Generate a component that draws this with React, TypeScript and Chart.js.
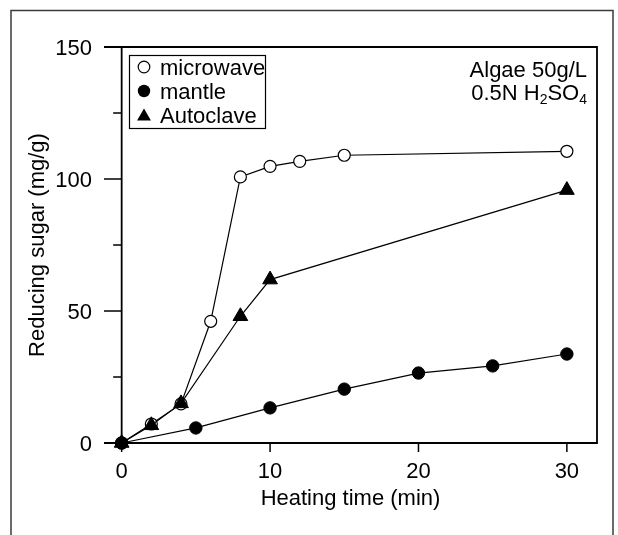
import React, { useEffect, useRef } from "react";
import { Chart, registerables } from "chart.js";

Chart.register(...registerables);

// Reducing sugar yield over heating time for three heating methods
const microwaveTime = [0, 2, 4, 6, 8, 10, 12, 15, 30];
const microwaveSugar = [0, 7.2, 14.8, 46.1, 100.8, 104.8, 106.7, 109.0, 110.5];

const mantleTime = [0, 5, 10, 15, 20, 25, 30];
const mantleSugar = [0, 5.7, 13.3, 20.4, 26.5, 29.2, 33.7];

const autoclaveTime = [0, 2, 4, 8, 10, 30];
const autoclaveSugar = [0, 6.7, 15.0, 48.0, 61.9, 95.8];

const seriesNames = ["microwave", "mantle", "Autoclave"];

const xTicks = [0, 10, 20, 30];
const yMajorTicks = [0, 50, 100, 150];
const yMinorTicks = [25, 75, 125];

const xTitle = "Heating time (min)";
const yTitle = "Reducing sugar (mg/g)";

const FONT = '"Liberation Sans", Arial, Helvetica, sans-serif';

const toPoints = (xs: number[], ys: number[]) => xs.map((x, i) => ({ x, y: ys[i] }));

function drawTriangle(ctx: CanvasRenderingContext2D, x: number, y: number, size: number) {
  ctx.beginPath();
  ctx.moveTo(x, y - size);
  ctx.lineTo(x + size * Math.sin(Math.PI / 3), y + size / 2);
  ctx.lineTo(x - size * Math.sin(Math.PI / 3), y + size / 2);
  ctx.closePath();
  ctx.fill();
}

const framePlugin = {
  id: "frame",
  beforeDatasetsDraw(chart: any) {
    const { ctx, chartArea, scales } = chart;
    const xs = scales.x;
    const ys = scales.y;
    const { left, right, top, bottom } = chartArea;
    ctx.save();

    // outer figure border
    ctx.strokeStyle = "#3a3a3a";
    ctx.lineWidth = 1.5;
    ctx.beginPath();
    ctx.moveTo(11, 540);
    ctx.lineTo(11, 10.5);
    ctx.lineTo(613, 10.5);
    ctx.lineTo(613, 540);
    ctx.stroke();

    // plot frame
    ctx.strokeStyle = "#000";
    ctx.lineWidth = 1.8;
    ctx.beginPath();
    ctx.moveTo(left, top);
    ctx.lineTo(right, top);
    ctx.lineTo(right, bottom);
    ctx.lineTo(left, bottom);
    ctx.stroke();

    // y axis sits at time zero
    const axisX = xs.getPixelForValue(0);
    ctx.beginPath();
    ctx.moveTo(axisX, top);
    ctx.lineTo(axisX, bottom);
    ctx.stroke();

    ctx.lineWidth = 1.5;
    yMajorTicks.forEach((v) => {
      const py = ys.getPixelForValue(v);
      ctx.beginPath();
      ctx.moveTo(left, py);
      ctx.lineTo(axisX, py);
      ctx.stroke();
    });
    yMinorTicks.forEach((v) => {
      const py = ys.getPixelForValue(v);
      ctx.beginPath();
      ctx.moveTo(axisX - 8.5, py);
      ctx.lineTo(axisX, py);
      ctx.stroke();
    });
    xTicks.forEach((v) => {
      const px = xs.getPixelForValue(v);
      ctx.beginPath();
      ctx.moveTo(px, bottom);
      ctx.lineTo(px, bottom + 9);
      ctx.stroke();
    });

    // tick labels
    ctx.fillStyle = "#000";
    ctx.font = `22px ${FONT}`;
    ctx.textAlign = "right";
    ctx.textBaseline = "alphabetic";
    yMajorTicks.forEach((v) => {
      const py = ys.getPixelForValue(v);
      ctx.fillText(String(v), 92, py + 8);
    });
    ctx.textAlign = "center";
    xTicks.forEach((v) => {
      const px = xs.getPixelForValue(v);
      ctx.fillText(String(v), px, 478);
    });

    // axis titles
    ctx.fillText(xTitle, (left + right) / 2, 505);
    ctx.save();
    ctx.translate(44, (top + bottom) / 2);
    ctx.rotate(-Math.PI / 2);
    ctx.fillText(yTitle, 0, 0);
    ctx.restore();

    ctx.restore();
  },
  afterDatasetsDraw(chart: any) {
    const { ctx } = chart;
    ctx.save();

    // legend
    ctx.fillStyle = "#fff";
    ctx.fillRect(129.5, 55.5, 136, 73);
    ctx.strokeStyle = "#000";
    ctx.lineWidth = 1.2;
    ctx.strokeRect(129.5, 55.5, 136, 73);

    const rows = [67, 91, 115];
    const mx = 144;
    ctx.beginPath();
    ctx.arc(mx, rows[0], 5.8, 0, Math.PI * 2);
    ctx.stroke();
    ctx.fillStyle = "#000";
    ctx.beginPath();
    ctx.arc(mx, rows[1], 6.2, 0, Math.PI * 2);
    ctx.fill();
    drawTriangle(ctx, mx, rows[2] + 1.5, 8);

    ctx.font = `22px ${FONT}`;
    ctx.textAlign = "left";
    ctx.textBaseline = "alphabetic";
    seriesNames.forEach((name, i) => ctx.fillText(name, 160, rows[i] + 8));

    // condition annotation
    ctx.textAlign = "right";
    ctx.fillText("Algae 50g/L", 587, 77);
    const line2y = 100;
    ctx.font = `14px ${FONT}`;
    const sub4 = ctx.measureText("4").width;
    ctx.font = `22px ${FONT}`;
    const so = ctx.measureText("SO").width;
    ctx.font = `14px ${FONT}`;
    const sub2 = ctx.measureText("2").width;
    ctx.font = `22px ${FONT}`;
    let cx = 587;
    ctx.textAlign = "left";
    cx -= sub4;
    ctx.font = `14px ${FONT}`;
    ctx.fillText("4", cx, line2y + 4);
    ctx.font = `22px ${FONT}`;
    cx -= so;
    ctx.fillText("SO", cx, line2y);
    ctx.font = `14px ${FONT}`;
    cx -= sub2;
    ctx.fillText("2", cx, line2y + 4);
    ctx.font = `22px ${FONT}`;
    ctx.textAlign = "right";
    ctx.fillText("0.5N H", cx, line2y);

    ctx.restore();
  },
};

export default function App() {
  const canvasRef = useRef<HTMLCanvasElement | null>(null);

  useEffect(() => {
    const canvas = canvasRef.current;
    if (!canvas) return;
    const chart = new Chart(canvas, {
      type: "line",
      data: {
        datasets: [
          {
            label: seriesNames[0],
            data: toPoints(microwaveTime, microwaveSugar),
            borderColor: "#000",
            borderWidth: 1.2,
            pointStyle: "circle",
            pointRadius: 6,
            pointBorderWidth: 1.2,
            pointBackgroundColor: "#fff",
            pointBorderColor: "#000",
            order: 3,
            clip: false,
          },
          {
            label: seriesNames[1],
            data: toPoints(mantleTime, mantleSugar),
            borderColor: "#000",
            borderWidth: 1.2,
            pointStyle: "circle",
            pointRadius: 6.2,
            pointBorderWidth: 1,
            pointBackgroundColor: "#000",
            pointBorderColor: "#000",
            order: 2,
            clip: false,
          },
          {
            label: seriesNames[2],
            data: toPoints(autoclaveTime, autoclaveSugar),
            borderColor: "#000",
            borderWidth: 1.2,
            pointStyle: "triangle",
            pointRadius: 8.5,
            pointBorderWidth: 1,
            pointBackgroundColor: "#000",
            pointBorderColor: "#000",
            order: 1,
            clip: false,
          },
        ],
      },
      options: {
        animation: false,
        responsive: false,
        devicePixelRatio: 1,
        layout: { padding: { left: 104, right: 21, top: 47, bottom: 92 } },
        plugins: { legend: { display: false }, tooltip: { enabled: false } },
        elements: { line: { tension: 0 } },
        scales: {
          x: { type: "linear", min: -1.19, max: 32.03, display: false },
          y: { type: "linear", min: 0, max: 150, display: false },
        },
      },
      plugins: [framePlugin],
    });
    return () => chart.destroy();
  }, []);

  return (
    <div style={{ position: "fixed", left: 0, top: 0, width: 618, height: 535, background: "#fff" }}>
      <canvas ref={canvasRef} width={618} height={535} style={{ display: "block" }} />
    </div>
  );
}
